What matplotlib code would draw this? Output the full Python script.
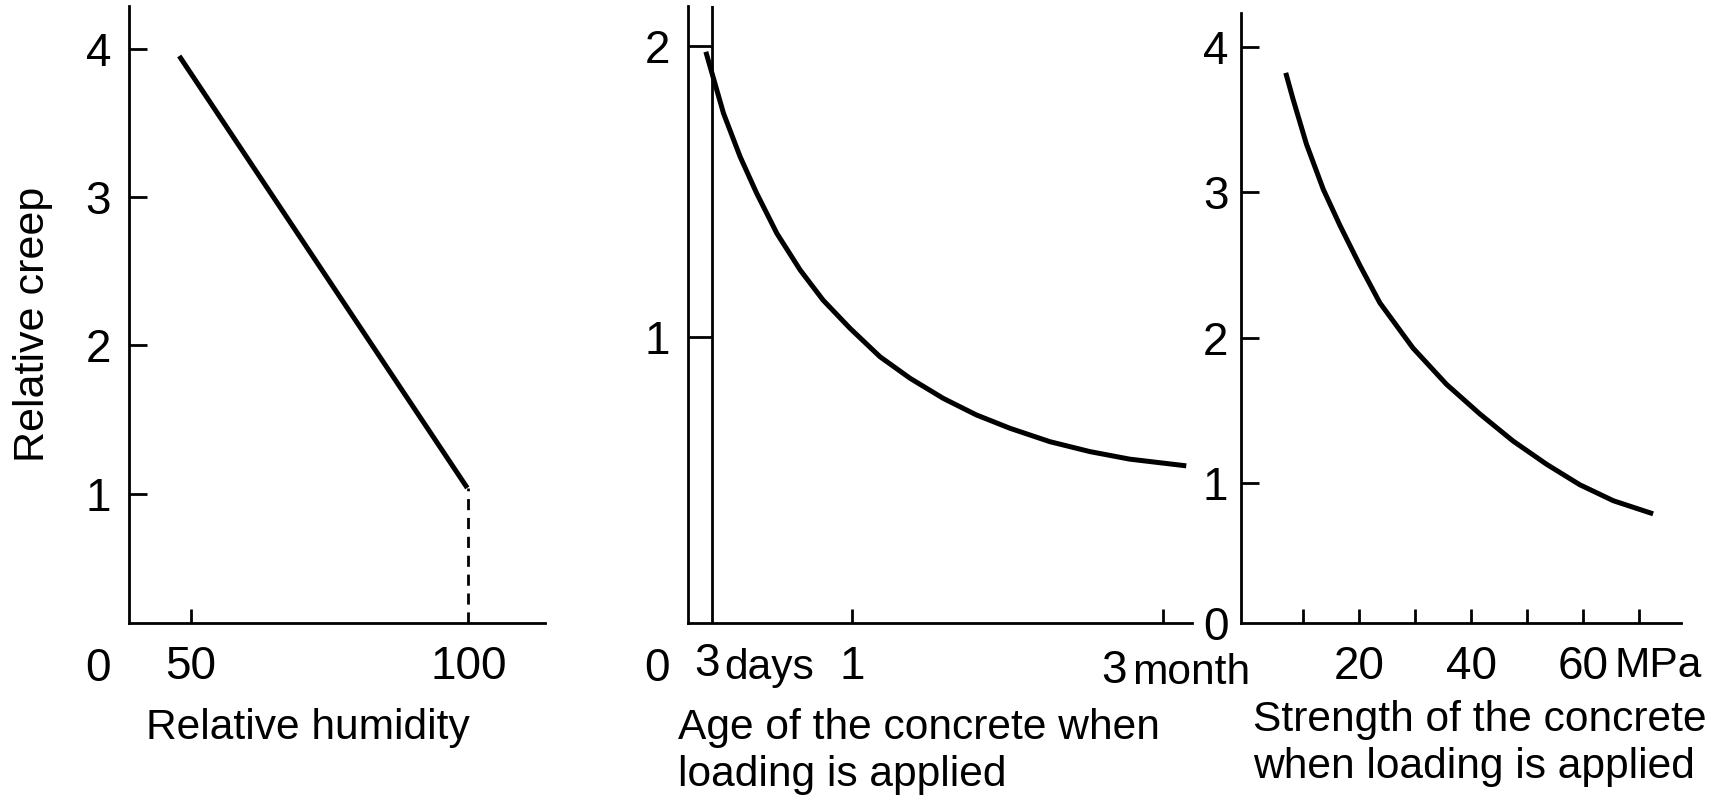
import numpy as np
import matplotlib.pyplot as plt

plt.rcParams['font.family'] = ['Liberation Sans', 'DejaVu Sans']

# left panel: relative humidity (%) vs relative creep
humidity = [47.9, 99.8]
creep_humidity = [3.95, 1.04]
humidity_ticks = [50, 100]

# middle panel: age of concrete at loading (days) vs relative creep
age_days = [1.8, 5.2, 8.4, 11.6, 15.5, 20.0, 24.4, 29.6, 35.4, 41.2, 47.6,
            54.0, 60.5, 68.2, 75.9, 83.6, 94.5]
creep_age = [1.979, 1.768, 1.619, 1.493, 1.355, 1.229, 1.126, 1.029, 0.931, 0.857,
             0.788, 0.731, 0.685, 0.639, 0.605, 0.579, 0.556]
age_ticks = [3, 30, 90]

# right panel: strength at loading (MPa) vs relative creep
strength = [6.9, 8.2, 10.6, 13.6, 16.6, 20.1, 23.7, 29.6, 35.6, 41.6, 47.5, 53.5,
            59.4, 65.4, 72.5]
creep_strength = [3.82, 3.64, 3.33, 3.02, 2.77, 2.50, 2.24, 1.93, 1.68, 1.475, 1.29,
                  1.13, 0.99, 0.88, 0.79]

LW_AX = 2.0
LW_CURVE = 3.6
TICK_FS = 33
LABEL_FS = 30.6


def style(ax, ypad):
    for s in ['top', 'right']:
        ax.spines[s].set_visible(False)
    for s in ['left', 'bottom']:
        ax.spines[s].set_linewidth(LW_AX)
    ax.tick_params(direction='in', width=LW_AX, labelsize=TICK_FS)
    ax.tick_params(axis='x', length=10, pad=16)
    ax.tick_params(axis='y', length=13, pad=ypad)


def curve(ax, x, y):
    ax.plot(x, y, color='k', lw=LW_CURVE, solid_capstyle='butt', solid_joinstyle='round')


def corner_zero(ax):
    ax.annotate('0', xy=(0, 0), xycoords='axes fraction', xytext=(-22.3, -42),
                textcoords='offset points', ha='center', va='baseline', fontsize=TICK_FS)


fig = plt.figure(figsize=(17.24, 7.99), dpi=100)

# --- panel 1
ax1 = fig.add_axes([0.0750, 0.2203, 0.2411, 0.7728])
style(ax1, 13)
curve(ax1, humidity, creep_humidity)
ax1.set_xlim(38.9, 113.8)
ax1.set_ylim(0.13, 4.29)
ax1.vlines(humidity_ticks[1], 0.13, creep_humidity[1], colors='k', lw=LW_AX,
           linestyles=(0, (4, 2.8)))
ax1.set_xticks(humidity_ticks, labels=[str(v) for v in humidity_ticks])
ax1.set_yticks([1, 2, 3, 4])
ax1.xaxis.get_major_ticks()[1].tick1line.set_visible(False)
corner_zero(ax1)

# --- panel 2
ax2 = fig.add_axes([0.3992, 0.2203, 0.2922, 0.7728])
style(ax2, 13)
curve(ax2, age_days, creep_age)
ax2.set_xlim(-1.6, 95.6)
ax2.set_ylim(0.016, 2.138)
ax2.axvline(age_ticks[0], color='k', lw=LW_AX)
ax2.set_yticks([1, 2])
ax2.hlines([1, 2], -1.6, age_ticks[0], colors='k', lw=LW_AX)
ax2.tick_params(axis='y', length=0)
ax2.set_xticks(age_ticks, labels=['', '1', ''])
ax2.xaxis.get_major_ticks()[0].tick1line.set_visible(False)
tr = ax2.get_xaxis_transform()
ax2.annotate('3', xy=(age_ticks[0], 0), xycoords=tr, xytext=(-4, -38),
             textcoords='offset points', ha='center', va='baseline', fontsize=TICK_FS)
ax2.annotate('days', xy=(age_ticks[0], 0), xycoords=tr, xytext=(8.5, -40.4),
             textcoords='offset points', ha='left', va='baseline', fontsize=LABEL_FS)
ax2.annotate('3', xy=(age_ticks[2], 0), xycoords=tr, xytext=(-35, -43),
             textcoords='offset points', ha='center', va='baseline', fontsize=TICK_FS)
ax2.annotate('month', xy=(age_ticks[2], 0), xycoords=tr, xytext=(-22.5, -44),
             textcoords='offset points', ha='left', va='baseline', fontsize=LABEL_FS)
corner_zero(ax2)

# --- panel 3
ax3 = fig.add_axes([0.7198, 0.2203, 0.2550, 0.7632])
style(ax3, 9)
curve(ax3, strength, creep_strength)
ax3.set_xlim(-1.1, 77.4)
ax3.set_ylim(0.04, 4.23)
ax3.set_xticks([20, 40, 60])
ax3.set_xticks([10, 30, 50, 70], minor=True)
ax3.tick_params(axis='x', which='minor', direction='in', length=10, width=LW_AX)
ax3.set_yticks([1, 2, 3, 4])
ax3.annotate('0', xy=(0, 0), xycoords='axes fraction', xytext=(-9, 0),
             textcoords='offset points', ha='right', va='center_baseline', fontsize=TICK_FS)
ax3.annotate('MPa', xy=(66.6, 0), xycoords=ax3.get_xaxis_transform(), xytext=(-4, -39),
             textcoords='offset points', ha='left', va='baseline', fontsize=LABEL_FS)

# axis titles
fig.text(0.0191, 0.594, 'Relative creep', rotation=90, ha='center', va='center',
         fontsize=31)
fig.text(0.0849, 0.089, 'Relative humidity', ha='left', va='center', fontsize=LABEL_FS)
fig.text(0.3935, 0.0595, 'Age of the concrete when\nloading is applied', ha='left',
         va='center', fontsize=LABEL_FS, linespacing=1.24)
fig.text(0.727, 0.0697, 'Strength of the concrete\nwhen loading is applied', ha='left',
         va='center', fontsize=LABEL_FS, linespacing=1.21)

fig.savefig('out.png', dpi=100)
